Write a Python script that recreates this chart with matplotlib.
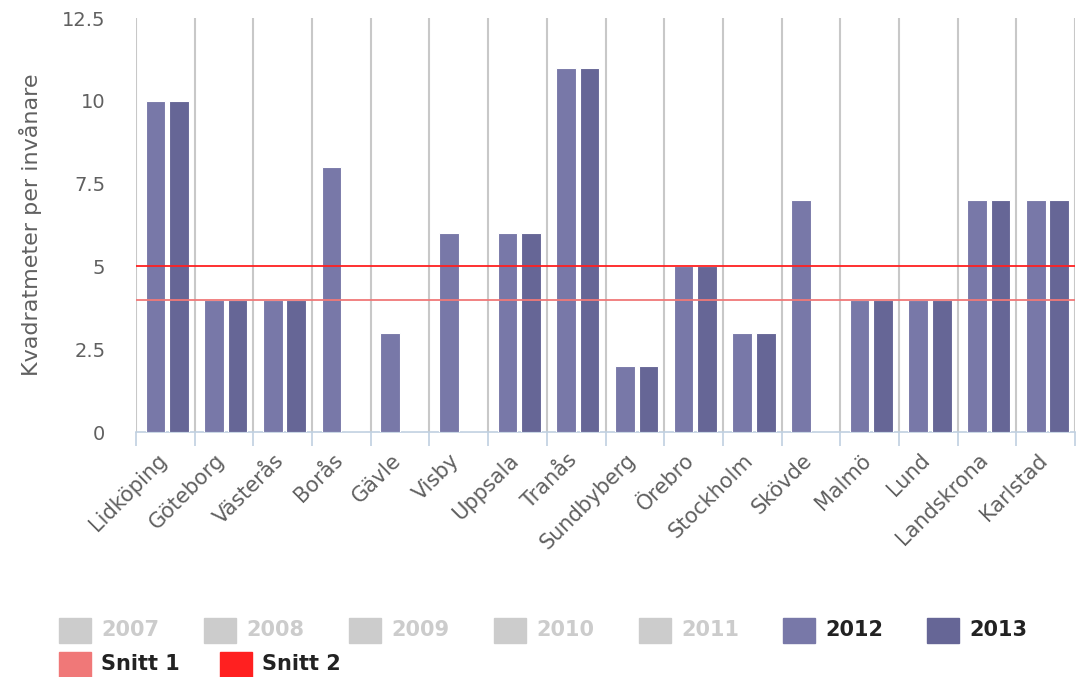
import numpy as np
import matplotlib
matplotlib.use('Agg')
import matplotlib.pyplot as plt
from matplotlib.patches import Rectangle
from matplotlib.transforms import ScaledTranslation

# data
cities = ['Lidköping', 'Göteborg', 'Västerås', 'Borås', 'Gävle', 'Visby',
          'Uppsala', 'Tranås', 'Sundbyberg', 'Örebro', 'Stockholm', 'Skövde',
          'Malmö', 'Lund', 'Landskrona', 'Karlstad']
v2012 = [10, 4, 4, 8, 3, 6, 6, 11, 2, 5, 3, 7, 4, 4, 7, 7]
v2013 = [10, 4, 4, 0, 0, 0, 6, 11, 2, 5, 3, 0, 4, 4, 7, 7]
snitt1 = 4
snitt2 = 5
yticks = [0, 2.5, 5, 7.5, 10, 12.5]
ytick_labels = ['0', '2.5', '5', '7.5', '10', '12.5']
legend_hidden = ['2007', '2008', '2009', '2010', '2011']

c2012 = '#7878a8'
c2013 = '#666696'
c_s1 = '#f07878'
c_s2 = '#ff2020'

W, H = 1091, 677
fig = plt.figure(figsize=(W / 100, H / 100), dpi=100)
ax = fig.add_axes([136 / W, 1 - 432 / H, (1075 - 136) / W, (432 - 18) / H])

x = np.arange(len(cities))
w = 0.335
ax.bar(x - 0.17, v2012, w, color=c2012, edgecolor='white', linewidth=0.8, zorder=3)
ax.bar(x + 0.23, v2013, w, color=c2013, edgecolor='white', linewidth=0.8, zorder=3)

ax.axhline(snitt1, color=c_s1, lw=1.3, zorder=4)
ax.axhline(snitt2, color=c_s2, lw=1.3, zorder=4)

ax.set_xlim(-0.5, len(cities) - 0.5)
ax.set_ylim(0, 12.5)

# category boundary grid
for b in np.arange(-0.5, len(cities), 1.0):
    ax.axvline(b, color='#c8c8c8', lw=1.5, zorder=1)

for s in ['top', 'right', 'left']:
    ax.spines[s].set_visible(False)
ax.spines['bottom'].set_color('#c0d0e0')
ax.spines['bottom'].set_linewidth(1.2)

ax.set_xticks(np.arange(-0.5, len(cities), 1.0), minor=True)
ax.set_xticks(x)
ax.set_xticklabels(cities, rotation=45, ha='right', va='top', rotation_mode='anchor',
                   fontsize=15, color='#606060')
ax.tick_params(axis='x', which='major', length=0, pad=13)
ax.tick_params(axis='x', which='minor', length=10, color='#c0d0e0', width=1.2)
shift = ScaledTranslation(-0.09, 0, fig.dpi_scale_trans)
for lbl in ax.get_xticklabels():
    lbl.set_transform(lbl.get_transform() + shift)

ax.set_yticks(yticks)
ax.set_yticklabels(ytick_labels, fontsize=14, color='#606060')
ax.tick_params(axis='y', length=0, pad=22)
ax.set_ylabel('Kvadratmeter per invånare', fontsize=16, color='#606060', labelpad=14)

# legend drawn by hand, like the original
lfont = dict(fontsize=15, fontweight='bold', va='center', ha='left')
row1 = 1 - 630 / H
row2 = 1 - 664 / H
sw, sh = 32, 25
items = [(lbl, '#cccccc', '#cccccc') for lbl in legend_hidden]
items += [('2012', c2012, '#222222'), ('2013', c2013, '#222222')]
xpos = [59, 204, 349, 494, 639, 783, 927]
for (lbl, fc, tc), px in zip(items, xpos):
    fig.patches.append(Rectangle((px / W, row1 - sh / 2 / H), sw / W, sh / H,
                                 transform=fig.transFigure, color=fc))
    fig.text((px + 42) / W, row1, lbl, color=tc, **lfont)
for (lbl, fc), px in zip([('Snitt 1', c_s1), ('Snitt 2', c_s2)], [59, 220]):
    fig.patches.append(Rectangle((px / W, row2 - sh / 2 / H), sw / W, sh / H,
                                 transform=fig.transFigure, color=fc))
    fig.text((px + 42) / W, row2, lbl, color='#222222', **lfont)

fig.savefig('out.png', dpi=100)
